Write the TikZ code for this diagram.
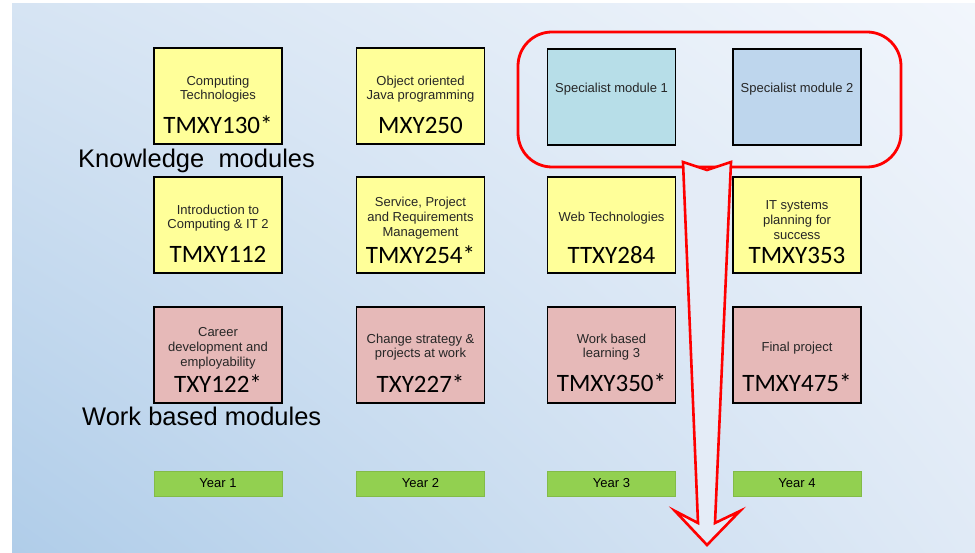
\documentclass[tikz,border=0pt]{standalone}
\usepackage{fontspec}
\setmainfont{Liberation Sans}
\newfontfamily\calibrifont{Carlito}
\usetikzlibrary{positioning, shadings}
\definecolor{knowfill}{RGB}{255,255,153}
\definecolor{workfill}{RGB}{230,185,184}
\definecolor{specfillA}{RGB}{183,222,232}
\definecolor{specfillB}{RGB}{190,214,237}
\definecolor{yearfill}{RGB}{146,208,80}
\definecolor{bgdark}{RGB}{176,205,233}
\definecolor{bgmid}{RGB}{214,228,243}
\definecolor{bglight}{RGB}{242,246,252}
\definecolor{bglow}{RGB}{224,234,246}
\definecolor{arrowfill}{RGB}{228,236,247}
\tikzset{
  module/.style   = {rectangle, draw=black, line width=1.6pt, inner sep=0pt,
                     minimum width=128pt, minimum height=96pt},
  knowbox/.style  = {module, fill=knowfill},
  workbox/.style  = {module, fill=workfill},
  specbox/.style  = {module, fill=#1},
  desc/.style     = {align=center, inner sep=0pt, text=black!85,
                     font=\fontsize{13}{14.8}\selectfont},
  modcode/.style  = {anchor=base, inner sep=0pt,
                     font=\calibrifont\fontsize{25}{28}\selectfont},
  yearbar/.style  = {rectangle, fill=yearfill, draw=yearfill!90!black, line width=0.4pt,
                     minimum width=128pt, minimum height=25pt, inner sep=0pt,
                     font=\fontsize{13}{15}\selectfont},
  rowlabel/.style = {anchor=base west, inner sep=0pt, font=\fontsize{25.5}{30}\selectfont},
  groupline/.style= {draw=red, line width=2.8pt, rounded corners=34pt},
  bigarrow/.style = {draw=red, fill=arrowfill, line width=2.6pt, line join=miter},
}
\begin{document}
\begin{tikzpicture}[x=1pt, y=-1pt]
  \useasboundingbox (0,0) rectangle (975,553);
  \shade[upper left=bgmid, upper right=bglight, lower left=bgdark, lower right=bglow]
    (12,4) rectangle (975,553);

  % knowledge modules, top two rows
  \node[knowbox] (comp) at (218,96) {};
  \node[desc] (compt) at ([yshift=-42pt]comp.north) {Computing\\Technologies};
  \node[modcode] (compc) at ([yshift=11pt]comp.south) {TMXY130*};

  \node[knowbox] (java) at (420.5,96) {};
  \node[desc] (javat) at ([yshift=-42pt]java.north) {Object oriented\\Java programming};
  \node[modcode] (javac) at ([yshift=11pt]java.south) {MXY250};

  \node[specbox=specfillA] (spec1) at (611.5,97) {};
  \node[desc] (spec1t) at ([yshift=-41pt]spec1.north) {Specialist module 1};

  \node[specbox=specfillB] (spec2) at (797,97) {};
  \node[desc] (spec2t) at ([yshift=-41pt]spec2.north) {Specialist module 2};

  \node[knowbox] (intro) at (218,225) {};
  \node[desc] (introt) at ([yshift=-42pt]intro.north) {Introduction to\\Computing \& IT 2};
  \node[modcode] (introc) at ([yshift=11pt]intro.south) {TMXY112};

  \node[knowbox] (serv) at (420.5,225) {};
  \node[desc] (servt) at ([yshift=-42pt]serv.north) {Service, Project\\and Requirements\\Management};
  \node[modcode] (servc) at ([yshift=10pt]serv.south) {TMXY254*};

  \node[knowbox] (web) at (611.5,225) {};
  \node[desc] (webt) at ([yshift=-42pt]web.north) {Web Technologies};
  \node[modcode] (webc) at ([yshift=10pt]web.south) {TTXY284};

  \node[knowbox] (itsys) at (797,225) {};
  \node[desc] (itsyst) at ([yshift=-44pt]itsys.north) {IT systems\\planning for\\success};
  \node[modcode] (itsysc) at ([yshift=10pt]itsys.south) {TMXY353};

  % work based modules
  \node[workbox] (career) at (218,355) {};
  \node[desc] (careert) at ([yshift=-42pt]career.north) {Career\\development and\\employability};
  \node[modcode] (careerc) at ([yshift=11pt]career.south) {TXY122*};

  \node[workbox] (change) at (420.5,355) {};
  \node[desc] (changet) at ([yshift=-41pt]change.north) {Change strategy \&\\projects at work};
  \node[modcode] (changec) at ([yshift=11pt]change.south) {TXY227*};

  \node[workbox] (wbl) at (611.5,355) {};
  \node[desc] (wblt) at ([yshift=-41pt]wbl.north) {Work based\\learning 3};
  \node[modcode] (wblc) at ([yshift=12pt]wbl.south) {TMXY350*};

  \node[workbox] (final) at (797,355) {};
  \node[desc] (finalt) at ([yshift=-42pt]final.north) {Final project};
  \node[modcode] (finalc) at ([yshift=12pt]final.south) {TMXY475*};

  \node[rowlabel] (knowlbl) at (78,168) {Knowledge~ modules};
  \node[rowlabel] (worklbl) at (82,425) {Work based modules};

  % year bars
  \node[yearbar] (year1) at (218,483.5) {Year 1};
  \node[yearbar] (year2) at (420.5,483.5) {Year 2};
  \node[yearbar] (year3) at (611.5,483.5) {Year 3};
  \node[yearbar] (year4) at (797,483.5) {Year 4};

  % specialist group and the arrow leaving it
  \draw[groupline] (518,32) rectangle (901,167);
  \draw[bigarrow] (683,162) -- (707,170) -- (731,162) -- (715,523) -- (740,511)
    -- (707,545) -- (675,511) -- (698,523) -- cycle;
\end{tikzpicture}
\end{document}
